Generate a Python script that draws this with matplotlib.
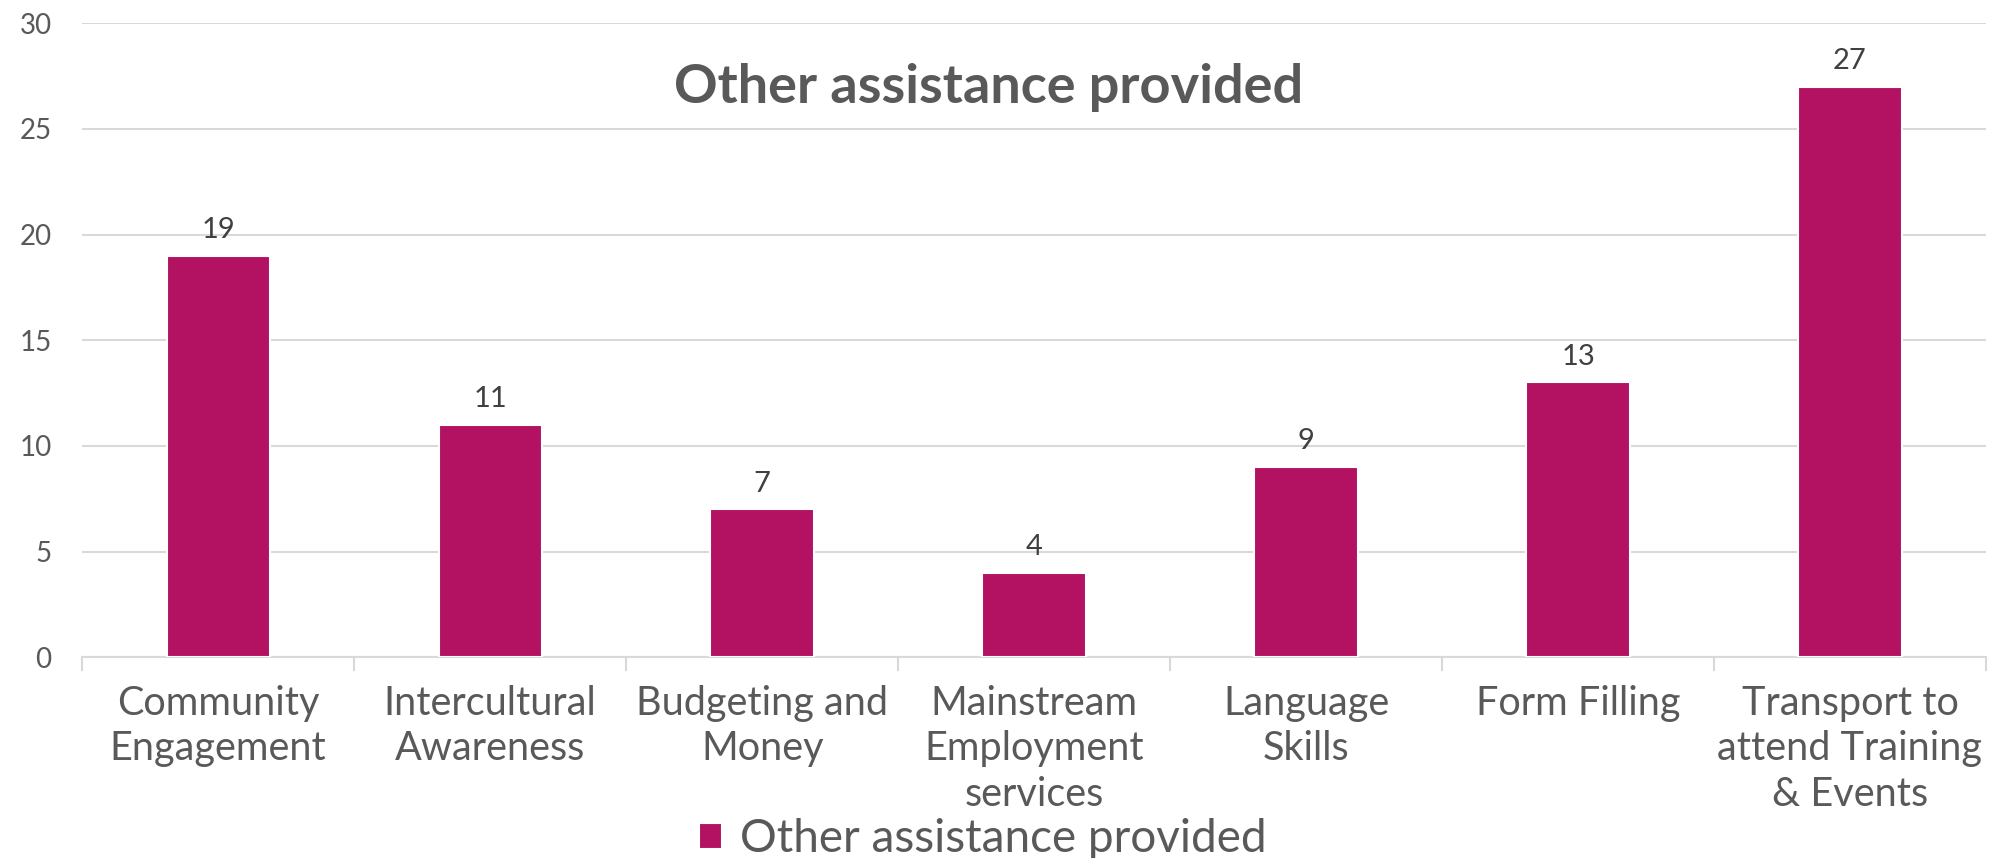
import matplotlib.pyplot as plt
import numpy as np

categories = ["Community\nEngagement", "Intercultural\nAwareness", "Budgeting and\nMoney",
              "Mainstream\nEmployment\nservices", "Language\nSkills", "Form Filling",
              "Transport to\nattend Training\n& Events"]
values = [19, 11, 7, 4, 9, 13, 27]
series_name = "Other assistance provided"
y_ticks = [0, 5, 10, 15, 20, 25, 30]

bar_color = "#B31262"
text_color = "#595959"
grid_color = "#D9D9D9"

plt.rcParams['font.family'] = ['Lato', 'DejaVu Sans']

fig = plt.figure(figsize=(20.06, 8.58), dpi=100)
ax = fig.add_axes([0.041, 0.234, 0.949, 0.739])

x = np.arange(len(categories))
bars = ax.bar(x, values, width=0.38, color=bar_color, edgecolor="white",
              linewidth=1.5, label=series_name, zorder=3)

for xi, v in zip(x, values):
    ax.text(xi, v + 0.6, str(v), ha="center", va="bottom", fontsize=21, color="#404040")

ax.set_xlim(-0.5, len(categories) - 0.5)
ax.set_ylim(0, 30)
ax.set_yticks(y_ticks)
ax.yaxis.grid(True, color=grid_color, linewidth=1.5, zorder=0)
ax.set_axisbelow(True)

ax.set_xticks(x)
ax.set_xticklabels(categories, fontsize=28.5, color=text_color, linespacing=1.28)
ax.set_xticks(np.arange(len(categories) + 1) - 0.5, minor=True)
ax.tick_params(axis="x", which="major", length=0, pad=20)
ax.tick_params(axis="x", which="minor", length=10, width=1.5, color=grid_color)
ax.tick_params(axis="y", length=0, labelsize=20, labelcolor=text_color, pad=22)

for s in ["top", "right", "left"]:
    ax.spines[s].set_visible(False)
ax.spines["bottom"].set_color(grid_color)
ax.spines["bottom"].set_linewidth(1.5)

fig.text(0.493, 0.898, series_name, ha="center", va="center",
         fontsize=39, fontweight="bold", color=text_color)

fig.legend(handles=[bars], labels=[series_name], loc="center",
           bbox_to_anchor=(0.49, 0.022), frameon=False, fontsize=33,
           handlelength=0.5, handleheight=0.5, handletextpad=0.4,
           labelcolor=text_color)

fig.savefig("out.png", dpi=100)
